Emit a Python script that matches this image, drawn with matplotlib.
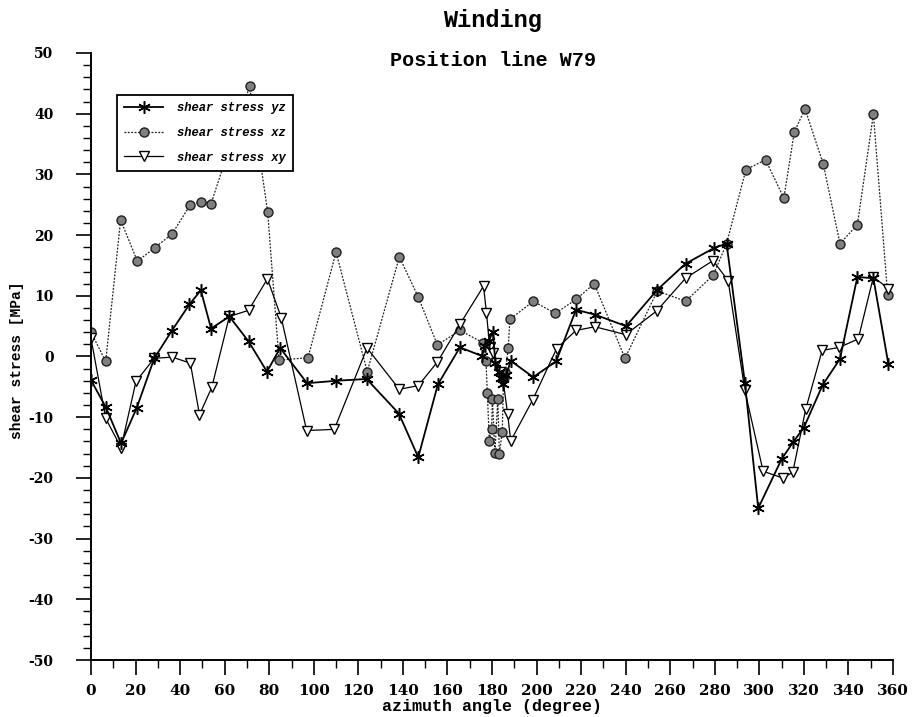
import matplotlib
matplotlib.use("Agg")
import matplotlib.pyplot as plt
from matplotlib.ticker import MultipleLocator, FixedLocator

# ---------------- data ----------------
yz_angle = [0, 6.7, 13.5, 20.5, 28.4, 36.2, 44.2, 49.3, 53.9, 62.1, 70.7, 79, 84.9,
            97, 110, 123.7, 138.2, 146.9, 155.7, 165.6, 175.4, 177, 178.5, 180.4,
            181.5, 183, 184, 185, 186.5, 188.4, 198.5, 208.8, 217.7, 226.2, 240.2,
            254.2, 266.9, 279.8, 285.3, 293.5, 299.5, 310, 315.2, 320, 328.4, 336.2,
            344, 351.2, 357.9]
yz_value = [-3.9, -8.4, -14.3, -8.5, -0.3, 4.2, 8.6, 10.9, 4.6, 6.6, 2.5, -2.5, 1.4,
            -4.4, -4.0, -3.7, -9.4, -16.6, -4.6, 1.5, 0.1, 1.8, 2.5, 4.1,
            -1.0, -2.6, -3.6, -4.6, -3.0, -0.7, -3.4, -0.8, 7.7, 6.9, 5.0,
            11.0, 15.3, 17.9, 18.6, -4.3, -25.0, -16.9, -14.1, -11.7, -4.7, -0.4,
            13.1, 12.9, -1.2]

xz_angle = [0, 6.6, 13.3, 20.8, 28.6, 36.4, 44.4, 49.2, 53.9, 71.2, 79.3, 84.4,
            97.4, 110, 124, 138.4, 146.9, 155.5, 165.6, 175.8, 177.3, 177.9, 178.8,
            179.8, 180.2, 181.3, 182.6, 183.3, 184.6, 185.2, 186, 187.3, 188, 198.5,
            208.4, 217.7, 225.9, 239.7, 254.2, 266.9, 279.3, 285.3, 294, 302.8, 311,
            315.7, 320.5, 328.7, 336.2, 344, 351.2, 357.6]
xz_value = [4.0, -0.8, 22.5, 15.7, 17.9, 20.2, 24.9, 25.5, 25.2, 44.5, 23.8, -0.6,
            -0.2, 17.2, -2.5, 16.4, 9.8, 1.9, 4.3, 2.3, -0.8, -6.0, -13.9,
            -11.9, -7.0, -15.9, -7.0, -16.0, -12.4, -3.5, -2.5, 1.4, 6.1, 9.1,
            7.1, 9.4, 12.0, -0.3, 10.8, 9.1, 13.4, 18.6, 30.8, 32.4, 26.1,
            37.0, 40.8, 31.7, 18.6, 21.7, 39.9, 10.2]

xy_angle = [0, 6.6, 13.5, 20.2, 28.4, 36.5, 44.6, 48.7, 54.2, 62.1, 70.7, 79.2, 85.4,
            96.8, 109.2, 123.9, 138.4, 146.9, 155.5, 165.6, 176.2, 177.5, 179, 180.5,
            182, 183.5, 185, 187, 188.4, 198.2, 209, 217.7, 226.2, 240, 253.9, 266.9,
            279.2, 286, 293.5, 301.7, 310.4, 315, 320.8, 328.2, 335.9, 344.4, 351.2,
            357.9]
xy_value = [3.0, -10.2, -15.0, -4.1, -0.3, -0.1, -1.1, -9.6, -5.1, 6.6, 7.6, 12.8, 6.4,
            -12.2, -12.0, 1.4, -5.4, -4.8, -0.9, 5.3, 11.6, 7.2, 1.5, 0.5,
            -1.0, -2.5, -4.0, -9.4, -13.9, -7.2, 1.3, 4.3, 4.9, 3.6, 7.5, 12.9,
            15.8, 12.5, -5.6, -18.9, -20.0, -19.1, -8.7, 1.0, 1.5, 2.9, 13.1,
            11.2]

series_labels = ["shear stress yz", "shear stress xz", "shear stress xy"]
x_ticks = list(range(0, 361, 20))
y_ticks = list(range(-50, 51, 10))

title = "Winding"
subtitle = "Position line W79"
xlabel = "azimuth angle (degree)"
ylabel = "shear stress [MPa]"

# ---------------- figure ----------------
W, H = 921, 717
X0, X1, YT, YB = 91, 893, 53, 660
fig = plt.figure(figsize=(W / 100, H / 100), dpi=100)
ax = fig.add_axes([X0 / W, 1 - YB / H, (X1 - X0) / W, (YB - YT) / H])

mono = "Liberation Mono"

ax.plot(yz_angle, yz_value, color="black", lw=1.3, marker=(6, 2, 0), ms=9,
        mew=1.1, label=series_labels[0], zorder=3)
ax.plot(xz_angle, xz_value, color="#222222", lw=0.9, ls=(0, (1.5, 1.2)), marker="o",
        ms=6.5, mfc="#808080", mec="#202020", mew=1.0, label=series_labels[1], zorder=2)
ax.plot(xy_angle, xy_value, color="black", lw=0.9, marker="v", ms=7.5, mfc="white",
        mec="black", mew=1.0, label=series_labels[2], zorder=2)

ax.set_xlim(0, 360)
ax.set_ylim(-50, 50)
ax.spines["top"].set_visible(False)
ax.spines["right"].set_visible(False)
ax.spines["left"].set_linewidth(1.4)
ax.spines["bottom"].set_linewidth(1.4)

ax.xaxis.set_major_locator(FixedLocator(x_ticks))
ax.xaxis.set_minor_locator(MultipleLocator(10))
ax.yaxis.set_major_locator(FixedLocator(y_ticks))
ax.yaxis.set_minor_locator(MultipleLocator(2))
ax.tick_params(axis="both", which="major", direction="out", length=11, width=1.2)
ax.tick_params(axis="both", which="minor", direction="out", length=6, width=1.0)
ax.tick_params(axis="x", which="major", pad=6, labelsize=11)
ax.tick_params(axis="y", which="major", pad=16, labelsize=10)
ax.set_xticklabels([str(v) for v in x_ticks], fontfamily="DejaVu Serif",
                   fontweight="bold")
ax.set_yticklabels([("-" + str(-v)) if v < 0 else str(v) for v in y_ticks],
                   fontfamily="DejaVu Serif", fontweight="bold")

ax.set_xlabel(xlabel, fontfamily=mono, fontweight="bold", fontsize=12)
ax.xaxis.set_label_coords((492 - X0) / (X1 - X0), (YB - 707) / (YB - YT))
ax.xaxis.label.set_va("center")
ax.set_ylabel(ylabel, fontfamily=mono, fontweight="bold", fontsize=10.5)
ax.yaxis.set_label_coords((17 - X0) / (X1 - X0), (YB - 360) / (YB - YT))
ax.yaxis.label.set_va("center")

fig.text(492 / W, 1 - 20 / H, title, ha="center", va="center", fontfamily=mono,
         fontweight="bold", fontsize=17)
fig.text(493 / W, 1 - 60 / H, subtitle, ha="center", va="center", fontfamily=mono,
         fontweight="bold", fontsize=14.5)

leg = ax.legend(loc="upper left", bbox_to_anchor=((117 - X0) / (X1 - X0), (YB - 95) / (YB - YT)),
                prop={"family": mono, "weight": "bold", "style": "italic", "size": 8.7},
                frameon=True, fancybox=False, edgecolor="black", framealpha=1,
                handlelength=3.2, labelspacing=1.05, borderpad=0.6, handletextpad=1.2,
                borderaxespad=0)
leg.get_frame().set_linewidth(1.3)

fig.savefig("out.png", dpi=100)
